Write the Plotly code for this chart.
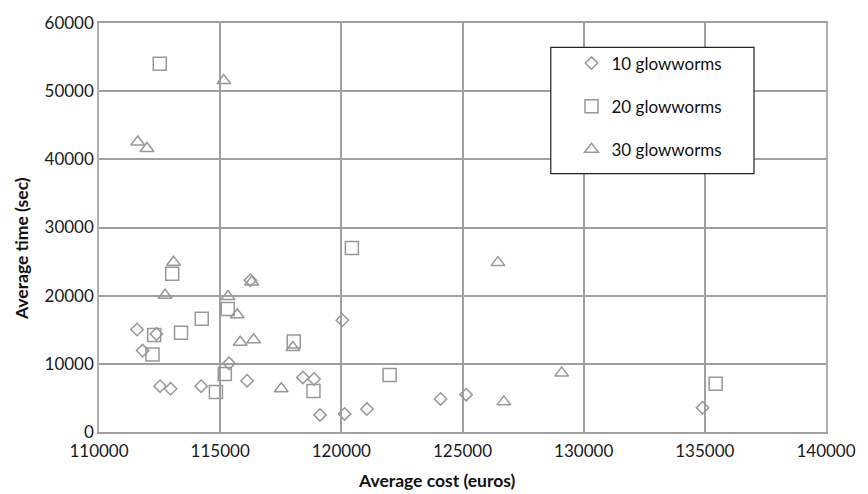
import plotly.graph_objects as go

# 10 glowworms (diamonds)
x10 = [111570, 112370, 111800, 112520, 112955, 114215, 115366, 116110, 116248,
       118415, 118874, 119118, 120041, 120134, 121057, 124093, 125150, 134906]
y10 = [15040, 14380, 11940, 6720, 6340, 6720, 10070, 7530, 22270,
       8010, 7780, 2510, 16390, 2650, 3370, 4850, 5480, 3560]

# 20 glowworms (squares)
x20 = [112508, 113020, 115313, 114240, 112276, 113386, 118036, 112207, 115191,
       114825, 120435, 118850, 121992, 135447]
y20 = [54030, 23220, 18050, 16620, 14240, 14570, 13270, 11370, 8500,
       5860, 27010, 6000, 8350, 7060]

# 30 glowworms (triangles)
x30 = [115150, 111598, 111980, 113077, 112724, 115325, 116300, 115703, 115825,
       116382, 118000, 117520, 126463, 129093, 126707]
y30 = [51550, 42550, 41590, 24900, 20060, 19880, 22000, 17190, 13170,
       13520, 12400, 6340, 24850, 8640, 4420]

names = ["10 glowworms", "20 glowworms", "30 glowworms"]

GREY = "#989898"
FONT = "Lato"

fig = go.Figure()
fig.add_trace(go.Scatter(x=x10, y=y10, mode="markers", name=names[0], legendgroup="a",
                         marker=dict(symbol="diamond-open", size=9.5, color=GREY,
                                     line=dict(width=1.5, color=GREY))))
fig.add_trace(go.Scatter(x=x20, y=y20, mode="markers", name=names[1], legendgroup="b",
                         marker=dict(symbol="square-open", size=13, color=GREY,
                                     line=dict(width=1.5, color=GREY))))
fig.add_trace(go.Scatter(x=x30, y=y30, mode="markers", name=names[2], legendgroup="c",
                         marker=dict(symbol="triangle-up-open", size=12, color=GREY,
                                     line=dict(width=1.5, color=GREY))))

W, H = 868, 494
L, R, T, B = 99, 32, 14, 62
pw, ph = W - L - R, H - T - B

def px(xp):
    return (xp - L) / pw

def py(yp):
    return (H - B - yp) / ph

fig.update_layout(
    width=W, height=H,
    margin=dict(l=L, r=R, t=T, b=B),
    paper_bgcolor="white", plot_bgcolor="white",
    font=dict(family=FONT, size=17, color="#1a1a1a"),
    showlegend=True,
    legend=dict(x=px(578), y=py(37), xanchor="left", yanchor="top",
                bgcolor="rgba(0,0,0,0)", borderwidth=0,
                font=dict(family=FONT, size=17, color="#111111"),
                traceorder="grouped", tracegroupgap=18,
                itemwidth=30),
    shapes=[dict(type="rect", xref="paper", yref="paper",
                 x0=px(557), x1=px(763), y0=py(168), y1=py(39),
                 line=dict(color="#222222", width=1.2), fillcolor="white",
                 layer="above")],
    annotations=[
        dict(text="<b>Average cost (euros)</b>", xref="paper", yref="paper",
             x=px(442), y=py(482), xanchor="center", yanchor="middle",
             showarrow=False, font=dict(family=FONT, size=17.5, color="#111111")),
        dict(text="<b>Average time (sec)</b>", xref="paper", yref="paper",
             x=px(20), y=py(245), xanchor="center", yanchor="middle",
             textangle=-90, showarrow=False,
             font=dict(family=FONT, size=17.5, color="#111111")),
    ],
)
fig.update_xaxes(range=[110000, 140000], dtick=5000, tick0=110000,
                 showgrid=True, gridcolor="#a0a0a0", gridwidth=1.5,
                 showline=True, linecolor="#a0a0a0", linewidth=1.5, mirror=True,
                 zeroline=False, ticks="", tickformat="d", ticklabelstandoff=3,
                 tickfont=dict(family=FONT, size=17, color="#1a1a1a"))
fig.update_yaxes(range=[0, 60000], dtick=10000, tick0=0,
                 showgrid=True, gridcolor="#a0a0a0", gridwidth=1.5,
                 showline=True, linecolor="#b0b0b0", linewidth=1.5, mirror=True,
                 zeroline=False, ticks="", tickformat="d",
                 tickfont=dict(family=FONT, size=17, color="#1a1a1a"))

fig.write_html("out.html")
